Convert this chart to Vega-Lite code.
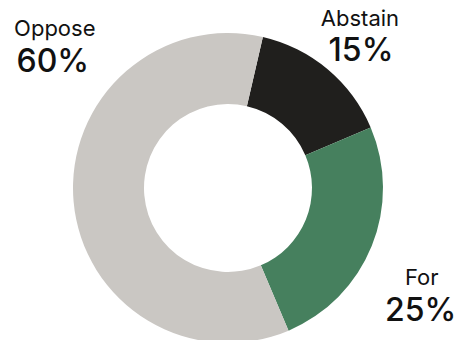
{
  "$schema": "https://vega.github.io/schema/vega-lite/v6.json",
  "width": 456,
  "height": 376,
  "padding": 0,
  "autosize": {"type": "none"},
  "background": "white",
  "data": {
    "values": [
      {"cat": "Abstain", "value": 15, "pct": "15%"},
      {"cat": "For", "value": 25, "pct": "25%"},
      {"cat": "Oppose", "value": 60, "pct": "60%"}
    ]
  },
  "encoding": {
    "theta": {"field": "value", "type": "quantitative", "stack": true, "scale": {"range": [0.2269, 6.5101]}},
    "order": {"field": "cat", "type": "ordinal"}
  },
  "layer": [
    {
      "mark": {"type": "arc", "outerRadius": 155, "innerRadius": 84},
      "encoding": {
        "color": {
          "field": "cat",
          "type": "nominal",
          "scale": {"domain": ["Abstain", "For", "Oppose"], "range": ["#201f1d", "#46805e", "#cac7c3"]},
          "legend": null
        }
      }
    },
    {
      "mark": {
        "type": "text",
        "radius": 210,
        "font": "Inter",
        "fontSize": 22,
        "fontWeight": 400,
        "baseline": "alphabetic",
        "align": "center",
        "color": "#111111",
        "dx": {"expr": "datum.cat == 'Oppose' ? 36 : (datum.cat == 'Abstain' ? -3 : -1)"},
        "dy": {"expr": "datum.cat == 'Oppose' ? -170 : (datum.cat == 'Abstain' ? -1 : 18)"}
      },
      "encoding": {"text": {"field": "cat", "type": "nominal"}}
    },
    {
      "mark": {
        "type": "text",
        "radius": 210,
        "font": "Inter",
        "fontSize": 32,
        "fontWeight": 500,
        "baseline": "alphabetic",
        "align": "center",
        "color": "#111111",
        "dx": {"expr": "datum.cat == 'Oppose' ? 34 : (datum.cat == 'Abstain' ? -2 : -2)"},
        "dy": {"expr": "datum.cat == 'Oppose' ? -134 : (datum.cat == 'Abstain' ? 34 : 54)"}
      },
      "encoding": {"text": {"field": "pct", "type": "nominal"}}
    }
  ]
}
